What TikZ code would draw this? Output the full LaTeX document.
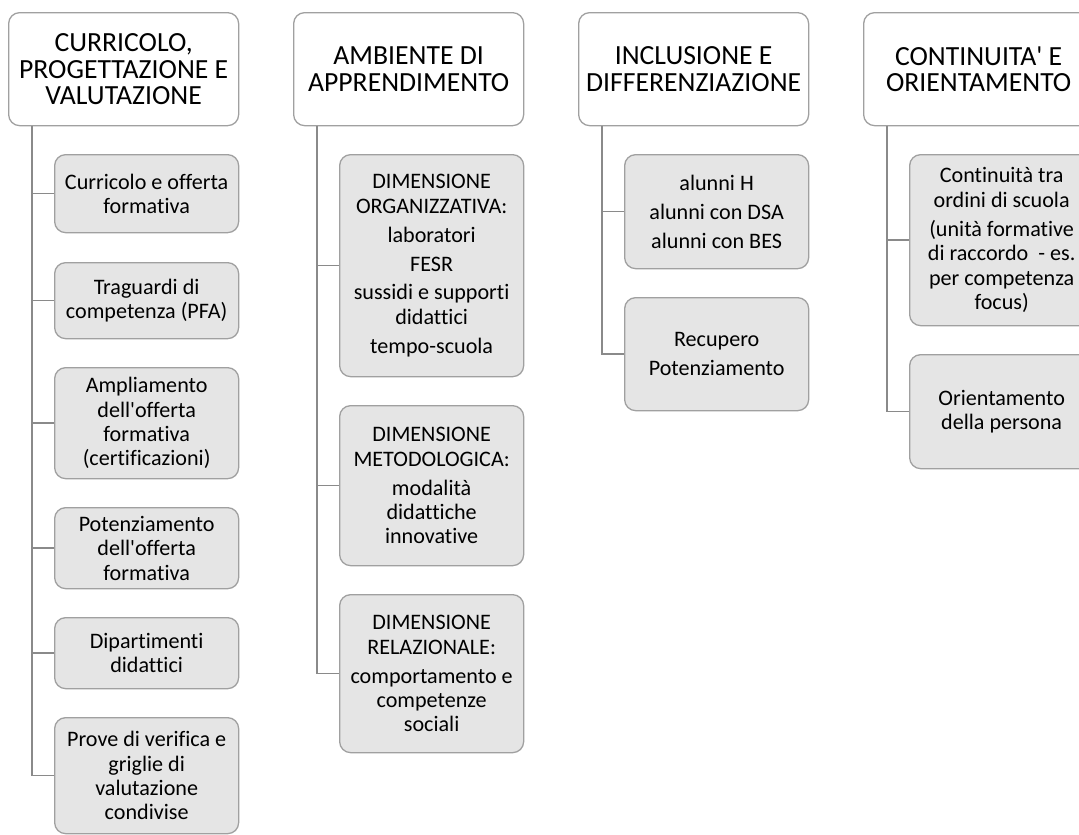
\documentclass[tikz,border=0pt]{standalone}
\usepackage{fontspec}
\setmainfont{Carlito}[Ligatures={TeXOff,NoCommon}]
\definecolor{boxline}{RGB}{160,160,160}
\definecolor{boxfill}{RGB}{229,229,229}
\definecolor{treeline}{RGB}{138,138,138}

\begin{document}
\begin{tikzpicture}[x=1bp,y=-1bp,
    head/.style={draw=boxline, line width=1.3bp, fill=white, rounded corners=11bp,
        anchor=north west, minimum width=230bp, minimum height=113bp, inner sep=0pt,
        align=center, font=\fontsize{27.8}{26.8}\selectfont},
    leaf/.style={draw=boxline, line width=1.3bp, fill=boxfill, rounded corners=11bp,
        anchor=north west, minimum width=184bp, minimum height=#1, inner sep=0pt,
        align=center, font=\fontsize{22.2}{24.5}\selectfont},
    tree/.style={draw=treeline, line width=1.4bp}]
    \useasboundingbox (0,0) rectangle (1079,835);
    \clip (0,0) rectangle (1079,835);

    % column headings
    \node[head] (h1) at (8,12) {CURRICOLO,\\PROGETTAZIONE E\\VALUTAZIONE};
    \node[head] (h2) at (293,12) {AMBIENTE DI\\APPRENDIMENTO};
    \node[head] (h3) at (578,12) {INCLUSIONE E\\DIFFERENZIAZIONE};
    \node[head] (h4) at (863,12) {CONTINUITA' E\\ORIENTAMENTO};

    % first column
    \node[leaf=78bp] (c1a) at (54,154) {Curricolo e offerta\\formativa};
    \node[leaf=76bp] (c1b) at (54,262) {Traguardi di\\competenza (PFA)};
    \node[leaf=111bp] (c1c) at (54,367) {Ampliamento\\dell'offerta\\formativa\\(certificazioni)};
    \node[leaf=81bp] (c1d) at (54,507) {Potenziamento\\dell'offerta\\formativa};
    \node[leaf=71bp] (c1e) at (54,617) {Dipartimenti\\didattici};
    \node[leaf=116bp] (c1f) at (54,717) {Prove di verifica e\\griglie di\\valutazione\\condivise};

    % second column
    \node[leaf=222bp] (c2a) at (339,154) {DIMENSIONE\\ORGANIZZATIVA:\\[4.5bp]laboratori\\[4.5bp]FESR\\[4.5bp]sussidi e supporti\\didattici\\[4.5bp]tempo-scuola};
    \node[leaf=160bp] (c2b) at (339,405) {DIMENSIONE\\METODOLOGICA:\\[4.5bp]modalità\\didattiche\\innovative};
    \node[leaf=158bp] (c2c) at (339,594) {DIMENSIONE\\RELAZIONALE:\\[4.5bp]comportamento e\\competenze\\sociali};

    % third column
    \node[leaf=114bp] (c3a) at (624,154) {alunni H\\[4.5bp]alunni con DSA\\[4.5bp]alunni con BES};
    \node[leaf=113bp] (c3b) at (624,297) {Recupero\\[4.5bp]Potenziamento};

    % fourth column
    \node[leaf=171bp] (c4a) at (909,154) {Continuità tra\\ordini di scuola\\[4.5bp](unità formative\\di raccordo\ \ - es.\\per competenza\\focus)};
    \node[leaf=114bp] (c4b) at (909,354) {Orientamento\\della persona};

    % tree lines
    \foreach \i in {1,...,4}
        \coordinate (t\i) at ([xshift=24bp]h\i.south west);
    \foreach \c in {a,...,f}
        \draw[tree] (t1) |- (c1\c.west);
    \foreach \c in {a,b,c}
        \draw[tree] (t2) |- (c2\c.west);
    \foreach \c in {a,b}{
        \draw[tree] (t3) |- (c3\c.west);
        \draw[tree] (t4) |- (c4\c.west);
    }
\end{tikzpicture}
\end{document}
